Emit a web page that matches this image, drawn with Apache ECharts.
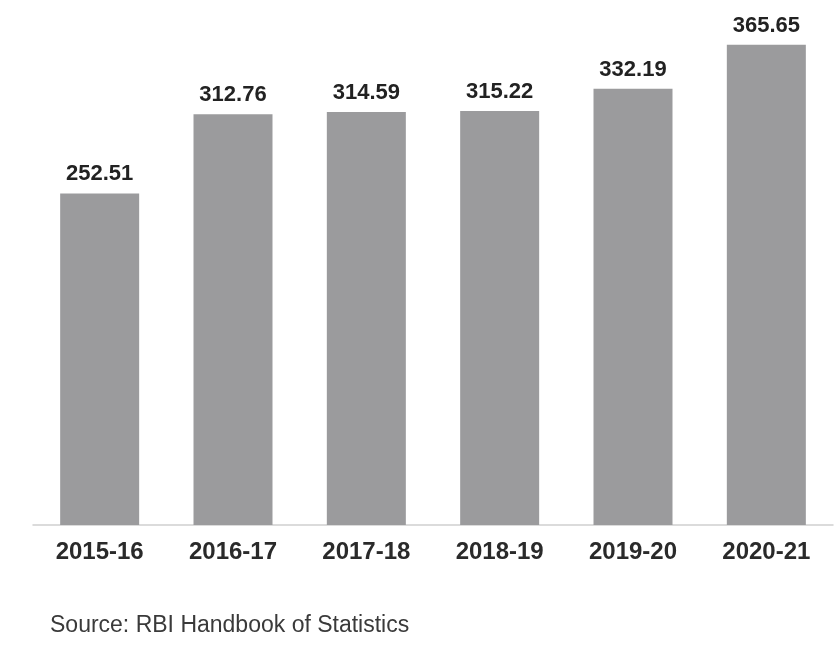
<!DOCTYPE html>
<html>
<head>
<meta charset="utf-8">
<script src="https://cdn.jsdelivr.net/npm/echarts@6/dist/echarts.min.js"></script>
<style>
  html, body { margin: 0; padding: 0; background: #ffffff; }
  #chart { width: 835px; height: 655px; }
</style>
</head>
<body>
<div id="chart"></div>
<script>
// Fiscal years and values (RBI Handbook of Statistics)
const years = ['2015-16', '2016-17', '2017-18', '2018-19', '2019-20', '2020-21'];
const values = [252.51, 312.76, 314.59, 315.22, 332.19, 365.65];
const sourceNote = 'Source: RBI Handbook of Statistics';

const chart = echarts.init(document.getElementById('chart'));
chart.setOption({
  backgroundColor: '#ffffff',
  animation: false,
  grid: { left: 33, right: 2, bottom: 130, height: 499 },
  graphic: [{
    type: 'text',
    left: 50,
    top: 614,
    style: {
      text: sourceNote,
      font: '23px "Liberation Sans", Arial, sans-serif',
      fill: '#3a3a3a'
    }
  }],
  xAxis: {
    type: 'category',
    data: years,
    axisLine: { lineStyle: { color: '#cfcfcf', width: 1.5 } },
    axisTick: { show: false },
    axisLabel: {
      color: '#2a2a2a',
      fontFamily: '"Liberation Sans", Arial, sans-serif',
      fontWeight: 'bold',
      fontSize: 24,
      margin: 15
    }
  },
  yAxis: {
    type: 'value',
    min: 0,
    max: 380,
    show: false,
    splitLine: { show: false }
  },
  series: [{
    type: 'bar',
    data: values,
    barWidth: 79,
    itemStyle: { color: '#9b9b9d' },
    label: {
      show: true,
      position: 'top',
      distance: 8,
      color: '#222222',
      fontFamily: '"Liberation Sans", Arial, sans-serif',
      fontWeight: 'bold',
      fontSize: 22,
      formatter: p => p.value.toFixed(2)
    }
  }]
});
</script>
</body>
</html>
